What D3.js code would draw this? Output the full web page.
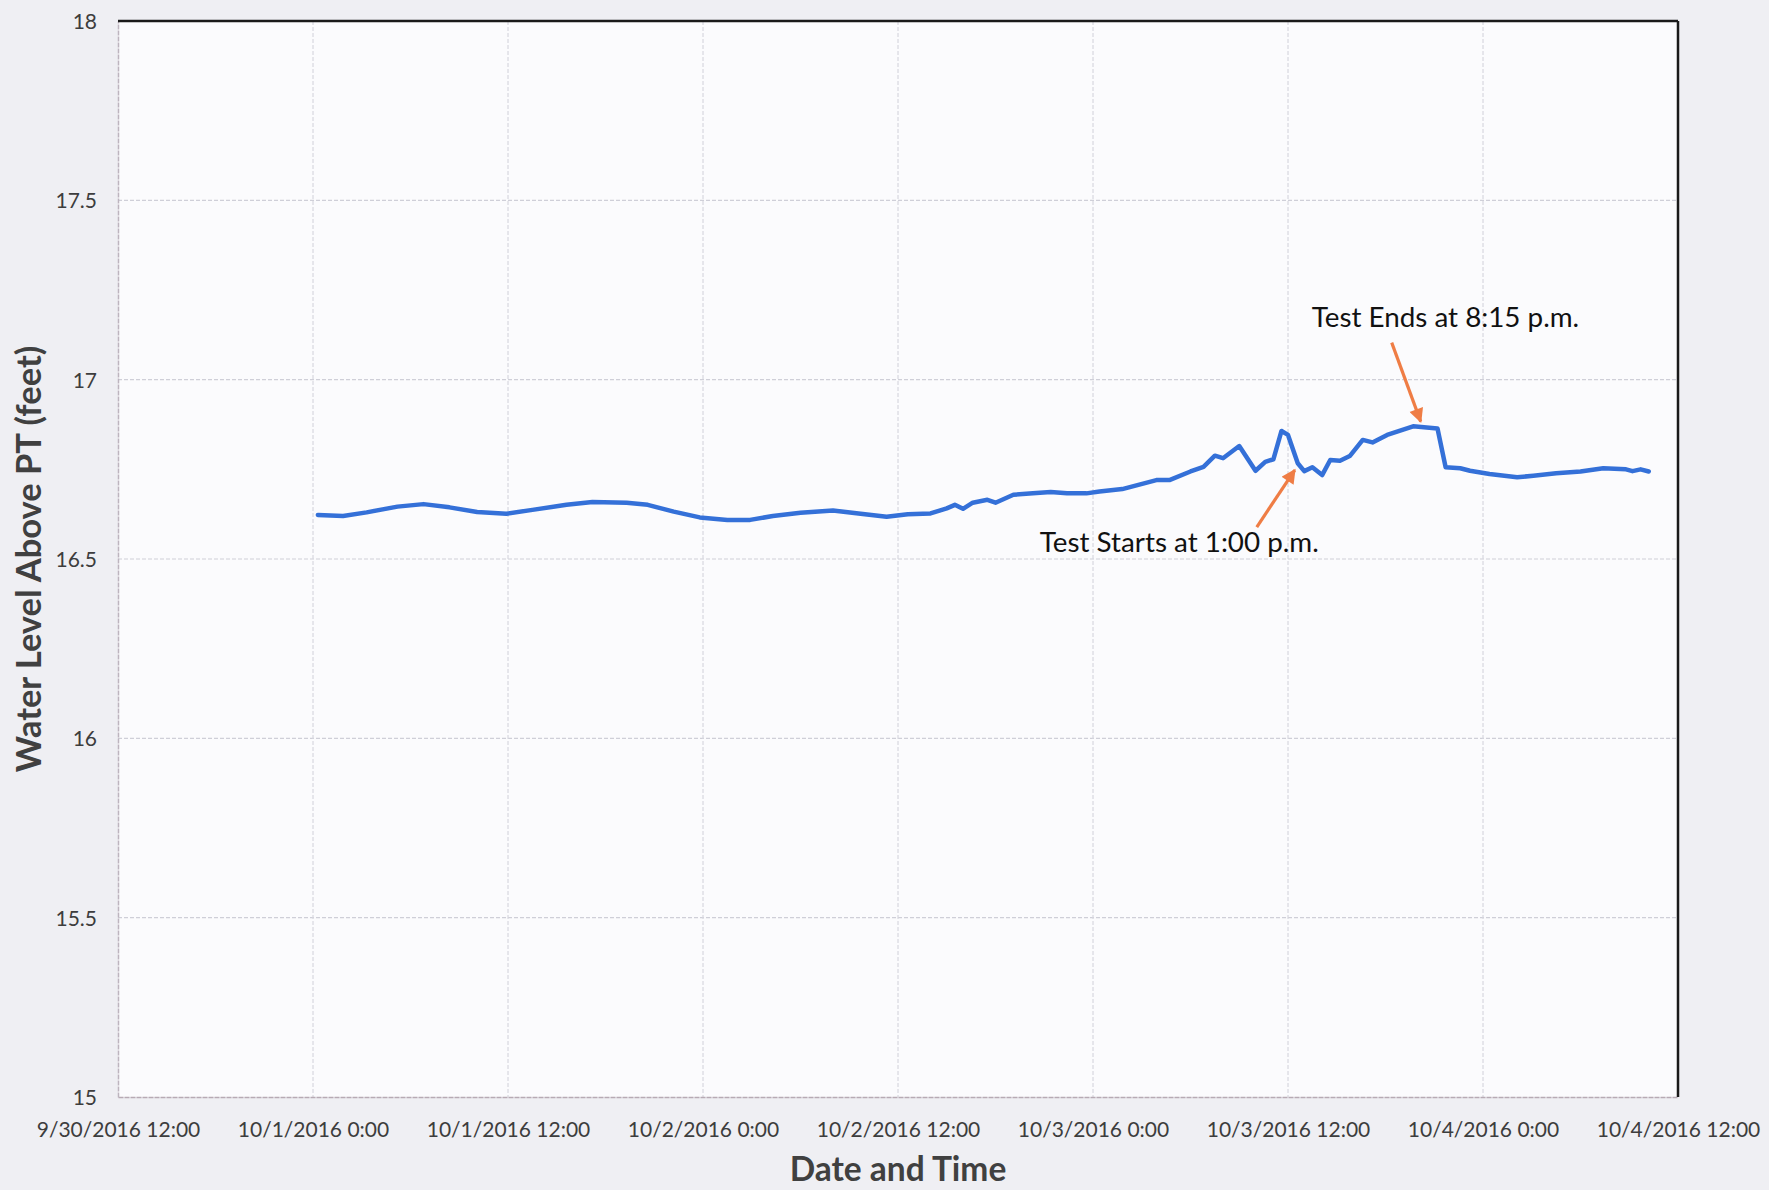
<!DOCTYPE html>
<html>
<head>
<meta charset="utf-8">
<script src="https://cdn.jsdelivr.net/npm/d3@7"></script>
<style>
  html, body { margin: 0; padding: 0; background: #efeff3; }
  svg { display: block; }
</style>
</head>
<body>
<svg id="chart" width="1769" height="1190"></svg>
<script>
// ---- data ----
const times = [
  "2016-10-01 00:18","2016-10-01 01:51","2016-10-01 03:18","2016-10-01 05:12","2016-10-01 06:48",
  "2016-10-01 08:24","2016-10-01 10:06","2016-10-01 11:54","2016-10-01 13:30","2016-10-01 15:36",
  "2016-10-01 17:12","2016-10-01 19:18","2016-10-01 20:36","2016-10-01 22:12","2016-10-01 23:48",
  "2016-10-02 01:30","2016-10-02 02:54","2016-10-02 04:18","2016-10-02 06:00","2016-10-02 08:00",
  "2016-10-02 09:42","2016-10-02 11:18","2016-10-02 12:36","2016-10-02 14:00","2016-10-02 15:00",
  "2016-10-02 15:30","2016-10-02 16:00","2016-10-02 16:36","2016-10-02 17:30","2016-10-02 18:00",
  "2016-10-02 19:06","2016-10-02 20:18","2016-10-02 21:24","2016-10-02 22:24","2016-10-02 23:36",
  "2016-10-03 00:24","2016-10-03 01:48","2016-10-03 03:54","2016-10-03 04:42","2016-10-03 06:00",
  "2016-10-03 06:48","2016-10-03 07:30","2016-10-03 08:00","2016-10-03 09:00","2016-10-03 10:00",
  "2016-10-03 10:36","2016-10-03 11:06","2016-10-03 11:36","2016-10-03 12:00","2016-10-03 12:36",
  "2016-10-03 13:00","2016-10-03 13:30","2016-10-03 14:06","2016-10-03 14:36","2016-10-03 15:12",
  "2016-10-03 15:48","2016-10-03 16:36","2016-10-03 17:12","2016-10-03 18:06","2016-10-03 18:54",
  "2016-10-03 19:42","2016-10-03 21:12","2016-10-03 21:42","2016-10-03 22:36","2016-10-03 23:12",
  "2016-10-04 00:24","2016-10-04 02:06","2016-10-04 03:06","2016-10-04 04:30","2016-10-04 06:00",
  "2016-10-04 07:24","2016-10-04 08:48","2016-10-04 09:12","2016-10-04 09:42","2016-10-04 10:12"
];
const waterLevel = [
  16.623,16.620,16.630,16.646,16.653,
  16.644,16.631,16.626,16.637,16.651,
  16.659,16.657,16.651,16.632,16.616,
  16.609,16.609,16.620,16.629,16.635,
  16.626,16.618,16.625,16.627,16.641,
  16.651,16.640,16.657,16.665,16.657,
  16.679,16.683,16.687,16.683,16.683,
  16.688,16.695,16.720,16.720,16.744,
  16.757,16.788,16.781,16.815,16.746,
  16.771,16.778,16.857,16.846,16.767,
  16.745,16.756,16.734,16.776,16.774,
  16.787,16.832,16.825,16.846,16.858,
  16.870,16.864,16.756,16.753,16.746,
  16.737,16.728,16.732,16.739,16.744,
  16.753,16.750,16.745,16.750,16.744
];
const xTickTimes = [
  "2016-09-30 12:00","2016-10-01 00:00","2016-10-01 12:00","2016-10-02 00:00","2016-10-02 12:00",
  "2016-10-03 00:00","2016-10-03 12:00","2016-10-04 00:00","2016-10-04 12:00"
];
const xTickLabels = [
  "9/30/2016 12:00","10/1/2016 0:00","10/1/2016 12:00","10/2/2016 0:00","10/2/2016 12:00",
  "10/3/2016 0:00","10/3/2016 12:00","10/4/2016 0:00","10/4/2016 12:00"
];
const yTicks = [15, 15.5, 16, 16.5, 17, 17.5, 18];
const yTickLabels = ["15", "15.5", "16", "16.5", "17", "17.5", "18"];
const annotationTexts = ["Test Starts at 1:00 p.m.", "Test Ends at 8:15 p.m."];
const annotationTimes = ["2016-10-03 12:25", "2016-10-03 20:10"];
const annotationValues = [16.748, 16.883];
const xTitle = "Date and Time";
const yTitle = "Water Level Above PT (feet)";

// ---- layout ----
const W = 1769, H = 1190;
const plot = { left: 118, right: 1678, top: 21, bottom: 1097 };
const parse = d3.utcParse("%Y-%m-%d %H:%M");
const data = times.map((t, i) => ({ t: parse(t), v: waterLevel[i] }));
const xTicks = xTickTimes.map(parse);

const x = d3.scaleUtc().domain([xTicks[0], xTicks[xTicks.length - 1]]).range([plot.left, plot.right]);
const y = d3.scaleLinear().domain([15, 18]).range([plot.bottom, plot.top]);

const svg = d3.select("#chart");
const FONT = "Lato, 'Open Sans', sans-serif";

svg.append("rect").attr("width", W).attr("height", H).attr("fill", "#efeff3");
svg.append("rect")
  .attr("x", plot.left).attr("y", plot.top)
  .attr("width", plot.right - plot.left).attr("height", plot.bottom - plot.top)
  .attr("fill", "#fbfbfd");

// gridlines
svg.append("g").selectAll("line").data(yTicks.slice(1, -1)).join("line")
  .attr("x1", plot.left).attr("x2", plot.right)
  .attr("y1", d => y(d)).attr("y2", d => y(d))
  .attr("stroke", "#cfcfd8").attr("stroke-width", 1.2).attr("stroke-dasharray", "4,2");
svg.append("g").selectAll("line").data(xTicks.slice(1, -1)).join("line")
  .attr("x1", d => x(d)).attr("x2", d => x(d))
  .attr("y1", plot.top).attr("y2", plot.bottom)
  .attr("stroke", "#d8d8e0").attr("stroke-width", 1.2).attr("stroke-dasharray", "4,2");

// axes
const xAxis = d3.axisBottom(x).tickValues(xTicks).tickSize(0).tickPadding(0)
  .tickFormat((d, i) => xTickLabels[i]);
const gx = svg.append("g").attr("transform", `translate(0,${plot.bottom})`).call(xAxis);
gx.select(".domain").attr("stroke", "#b7aab4").attr("stroke-width", 1.5).attr("stroke-dasharray", "5,1");
gx.selectAll("text").attr("font-family", FONT).attr("font-size", 21).attr("fill", "#3d3d3d")
  .attr("y", 33).attr("dy", "0.35em");

const yAxis = d3.axisLeft(y).tickValues(yTicks).tickSize(0).tickPadding(0)
  .tickFormat((d, i) => yTickLabels[i]);
const gy = svg.append("g").attr("transform", `translate(${plot.left},0)`).call(yAxis);
gy.select(".domain").attr("stroke", "#bdb4be").attr("stroke-width", 1.5).attr("stroke-dasharray", "5,1");
gy.selectAll("text").attr("font-family", FONT).attr("font-size", 21).attr("fill", "#3d3d3d")
  .attr("x", -21).attr("dy", "0.35em");

// top and right frame
svg.append("line").attr("x1", plot.left).attr("x2", plot.right).attr("y1", plot.top).attr("y2", plot.top)
  .attr("stroke", "#1a1a1a").attr("stroke-width", 2.5);
svg.append("line").attr("x1", plot.right).attr("x2", plot.right).attr("y1", plot.top).attr("y2", plot.bottom)
  .attr("stroke", "#1a1a1a").attr("stroke-width", 2.5);

// series line
const line = d3.line().x(d => x(d.t)).y(d => y(d.v));
svg.append("path").datum(data)
  .attr("d", line)
  .attr("fill", "none").attr("stroke", "#3470d8").attr("stroke-width", 4.5)
  .attr("stroke-linejoin", "round").attr("stroke-linecap", "round");

// annotations
const ORANGE = "#ef7d45";
const defs = svg.append("defs");
defs.append("marker").attr("id", "arrow").attr("viewBox", "0 0 10 10")
  .attr("refX", 9).attr("refY", 5).attr("markerWidth", 5).attr("markerHeight", 4.5)
  .attr("orient", "auto").attr("markerUnits", "strokeWidth")
  .append("path").attr("d", "M0,0 L10,5 L0,10 Z").attr("fill", ORANGE);

const annoOffsets = [
  { tail: [-38, 57], text: [-255, 82] },
  { tail: [-29, -79], text: [-109, -95] }
];
annotationTexts.forEach((txt, i) => {
  const tx = x(parse(annotationTimes[i])), ty = y(annotationValues[i]);
  const o = annoOffsets[i];
  svg.append("line")
    .attr("x1", tx + o.tail[0]).attr("y1", ty + o.tail[1])
    .attr("x2", tx).attr("y2", ty)
    .attr("stroke", ORANGE).attr("stroke-width", 3.2)
    .attr("marker-end", "url(#arrow)");
  svg.append("text")
    .attr("x", tx + o.text[0]).attr("y", ty + o.text[1])
    .attr("font-family", FONT).attr("font-size", 27.8).attr("fill", "#111")
    .text(txt);
});

// axis titles
svg.append("text").attr("x", (plot.left + plot.right) / 2).attr("y", 1181)
  .attr("text-anchor", "middle").attr("font-family", FONT).attr("font-weight", "bold")
  .attr("font-size", 33.5).attr("fill", "#404040").text(xTitle);
svg.append("text").attr("transform", `translate(41,${(plot.top + plot.bottom) / 2}) rotate(-90)`)
  .attr("text-anchor", "middle").attr("font-family", FONT).attr("font-weight", "bold")
  .attr("font-size", 34.5).attr("fill", "#404040").text(yTitle);
</script>
</body>
</html>
